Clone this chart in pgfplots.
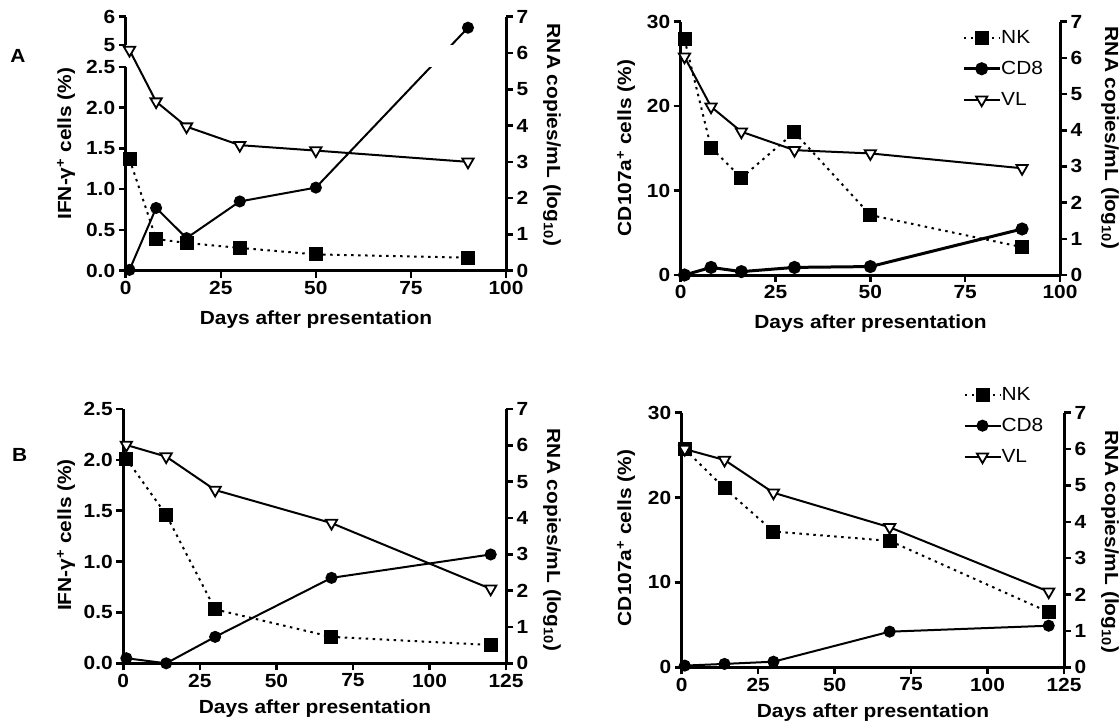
\documentclass[border=0pt]{standalone}
\usepackage{fontspec}
\setmainfont{Liberation Sans}[FakeStretch=1.1]
\usepackage{pgfplots}
\pgfplotsset{compat=1.18}
\newcommand\lab{\fontsize{19}{22}\selectfont\bfseries}
\newcommand\leg{\fontsize{19}{22}\selectfont}
\pgfplotsset{
  prism/.style={scale only axis, anchor=south west,
    axis line style={line width=3pt,-},
    tick style={line width=2.5pt,black},
    major tick length=7pt, tick align=outside,
    ticklabel style={font=\lab}, clip=true},
  nk/.style={black, line width=2pt, dash pattern=on 2.5pt off 4.5pt,
    mark=square*, mark size=6pt, mark options={solid, fill=black}},
  cd8/.style={black, line width=2pt, solid,
    mark=*, mark size=5pt, mark options={solid, fill=black}},
  vl/.style={black, line width=2pt, solid,
    mark=triangle*, mark size=6.5pt, mark options={solid, fill=white, rotate=180, line width=1.8pt}},
}
% ---------------- data ----------------
% Panel A, IFN-gamma (left axis, %); CD8 at day 90 = 5.61 %, written in the
% broken-axis coordinate (upper segment 5..6 mapped onto 2.770..3.117)
\pgfplotstableread{
day NK CD8
1 1.37 0.01
8 0.39 0.77
16 0.34 0.40
30 0.28 0.85
50 0.20 1.02
90 0.16 2.982
}\dataAa
\pgfplotstableread{
day VL
1 6.08
8 4.66
16 3.97
30 3.46
50 3.31
90 3.00
}\vlAa
\pgfplotstableread{
day NK CD8
1 27.9 0.0
8 15.1 0.9
16 11.5 0.4
30 16.9 0.9
50 7.1 1.0
90 3.3 5.45
}\dataAb
\pgfplotstableread{
day VL
1 6.03
8 4.65
16 3.96
30 3.45
50 3.36
90 2.95
}\vlAb
\pgfplotstableread{
day NK CD8
1 2.01 0.05
14 1.46 0.0
30 0.53 0.26
68 0.26 0.84
120 0.18 1.07
}\dataBa
\pgfplotstableread{
day VL
1 6.01
14 5.69
30 4.77
68 3.86
120 2.05
}\vlBa
\pgfplotstableread{
day NK CD8
1 25.7 0.2
14 21.1 0.4
30 16.0 0.66
68 14.9 4.2
120 6.5 4.9
}\dataBb
\pgfplotstableread{
day VL
1 6.00
14 5.70
30 4.80
68 3.85
120 2.08
}\vlBb
\begin{document}
\begin{tikzpicture}
\useasboundingbox (0pt,0pt) rectangle (1119pt,-728pt);
% ===================== Panel A left =====================
\begin{axis}[prism, at={(125.7pt,-270.7pt)}, width=380.3pt, height=203.7pt,
  xmin=0, xmax=100, ymin=0, ymax=2.5,
  axis x line*=bottom, axis y line*=left,
  xtick={0,25,50,75,100}, xticklabels={0,25,50,75,100},
  ytick={0,0.5,1,1.5,2,2.5}, yticklabels={0.0,0.5,1.0,1.5,2.0,2.5}]
\addplot[nk] table[x=day,y=NK] {\dataAa};
\addplot[cd8] table[x=day,y=CD8] {\dataAa};
\end{axis}
\begin{axis}[prism, at={(125.7pt,-45pt)}, width=380.3pt, height=28.3pt,
  xmin=0, xmax=100, ymin=2.770, ymax=3.117,
  axis x line=none, axis y line*=left, xtick=\empty,
  ytick={2.770,3.117}, yticklabels={5,6}]
\addplot[cd8] table[x=day,y=CD8] {\dataAa};
\end{axis}
\begin{axis}[prism, at={(125.7pt,-270.7pt)}, width=380.3pt, height=254pt,
  xmin=0, xmax=100, ymin=0, ymax=7,
  axis x line=none, axis y line*=right, xtick=\empty,
  ytick={0,1,2,3,4,5,6,7}, yticklabels={0,1,2,3,4,5,6,7}]
\addplot[vl] table[x=day,y=VL] {\vlAa};
\end{axis}
\node[font=\lab] at (18pt,-56pt) {A};
\node[font=\lab, rotate=90] at (66pt,-143.7pt) {IFN-γ\textsuperscript{+} cells (\%)};
\node[font=\lab, rotate=-90] at (552pt,-135pt) {RNA copies/mL (log\textsubscript{10})};
\node[font=\lab] at (316pt,-320pt) {Days after presentation};
% ===================== Panel A right =====================
\begin{axis}[prism, at={(680.7pt,-275pt)}, width=379.3pt, height=253.3pt,
  xmin=0, xmax=100, ymin=0, ymax=30,
  axis x line*=bottom, axis y line*=left,
  xtick={0,25,50,75,100}, xticklabels={0,25,50,75,100},
  ytick={0,10,20,30}, yticklabels={0,10,20,30}]
\addplot[nk] table[x=day,y=NK] {\dataAb};
\addplot[cd8, line width=3pt] table[x=day,y=CD8] {\dataAb};
\end{axis}
\begin{axis}[prism, at={(680.7pt,-275pt)}, width=379.3pt, height=253.3pt,
  xmin=0, xmax=100, ymin=0, ymax=7,
  axis x line=none, axis y line*=right, xtick=\empty,
  ytick={0,1,2,3,4,5,6,7}, yticklabels={0,1,2,3,4,5,6,7},
  legend cell align=left,
  legend image code/.code={\draw[mark repeat=2,mark phase=2,#1] plot coordinates {(0pt,0pt) (18pt,0pt) (36pt,0pt)};},
  legend style={draw=none, fill=none, font=\leg, at={(0.7416,0.971)}, anchor=north west,
    inner sep=0pt, row sep=14pt, nodes={text height=14pt, text depth=3pt, inner sep=0pt},
    /tikz/every even column/.style={column sep=4pt}}]
\addlegendimage{nk}
\addlegendentry{NK}
\addlegendimage{cd8, line width=3pt}
\addlegendentry{CD8}
\addplot[vl] table[x=day,y=VL] {\vlAb};
\addlegendentry{VL}
\end{axis}
\node[font=\lab, rotate=90] at (626pt,-148pt) {CD107a\textsuperscript{+} cells (\%)};
\node[font=\lab, rotate=-90] at (1110pt,-138pt) {RNA copies/mL (log\textsubscript{10})};
\node[font=\lab] at (870.5pt,-324pt) {Days after presentation};
% ===================== Panel B left =====================
\begin{axis}[prism, at={(123.3pt,-663.3pt)}, width=382.7pt, height=254.3pt,
  xmin=0, xmax=125, ymin=0, ymax=2.5,
  axis x line*=bottom, axis y line*=left,
  xtick={0,25,50,75,100,125}, xticklabels={0,25,50,75,100,125},
  ytick={0,0.5,1,1.5,2,2.5}, yticklabels={0.0,0.5,1.0,1.5,2.0,2.5}]
\addplot[nk] table[x=day,y=NK] {\dataBa};
\addplot[cd8] table[x=day,y=CD8] {\dataBa};
\end{axis}
\begin{axis}[prism, at={(123.3pt,-663.3pt)}, width=382.7pt, height=254.3pt,
  xmin=0, xmax=125, ymin=0, ymax=7,
  axis x line=none, axis y line*=right, xtick=\empty,
  ytick={0,1,2,3,4,5,6,7}, yticklabels={0,1,2,3,4,5,6,7}]
\addplot[vl] table[x=day,y=VL] {\vlBa};
\end{axis}
\node[font=\lab] at (19.6pt,-455pt) {B};
\node[font=\lab, rotate=90] at (66pt,-535pt) {IFN-γ\textsuperscript{+} cells (\%)};
\node[font=\lab, rotate=-90] at (552pt,-540pt) {RNA copies/mL (log\textsubscript{10})};
\node[font=\lab] at (315pt,-709pt) {Days after presentation};
% ===================== Panel B right =====================
\begin{axis}[prism, at={(681.7pt,-667.3pt)}, width=382.3pt, height=254.6pt,
  xmin=0, xmax=125, ymin=0, ymax=30,
  axis x line*=bottom, axis y line*=left,
  xtick={0,25,50,75,100,125}, xticklabels={0,25,50,75,100,125},
  ytick={0,10,20,30}, yticklabels={0,10,20,30}]
\addplot[nk] table[x=day,y=NK] {\dataBb};
\addplot[cd8] table[x=day,y=CD8] {\dataBb};
\end{axis}
\begin{axis}[prism, at={(681.7pt,-667.3pt)}, width=382.3pt, height=254.6pt,
  xmin=0, xmax=125, ymin=0, ymax=7,
  axis x line=none, axis y line*=right, xtick=\empty,
  ytick={0,1,2,3,4,5,6,7}, yticklabels={0,1,2,3,4,5,6,7},
  legend cell align=left,
  legend image code/.code={\draw[mark repeat=2,mark phase=2,#1] plot coordinates {(0pt,0pt) (18pt,0pt) (36pt,0pt)};},
  legend style={draw=none, fill=none, font=\leg, at={(0.7366,1.105)}, anchor=north west,
    inner sep=0pt, row sep=14pt, nodes={text height=14pt, text depth=3pt, inner sep=0pt},
    /tikz/every even column/.style={column sep=4pt}}]
\addlegendimage{nk}
\addlegendentry{NK}
\addlegendimage{cd8}
\addlegendentry{CD8}
\addplot[vl] table[x=day,y=VL] {\vlBb};
\addlegendentry{VL}
\end{axis}
\node[font=\lab, rotate=90] at (626pt,-538pt) {CD107a\textsuperscript{+} cells (\%)};
\node[font=\lab, rotate=-90] at (1110pt,-542pt) {RNA copies/mL (log\textsubscript{10})};
\node[font=\lab] at (873pt,-713pt) {Days after presentation};
\end{tikzpicture}
\end{document}
